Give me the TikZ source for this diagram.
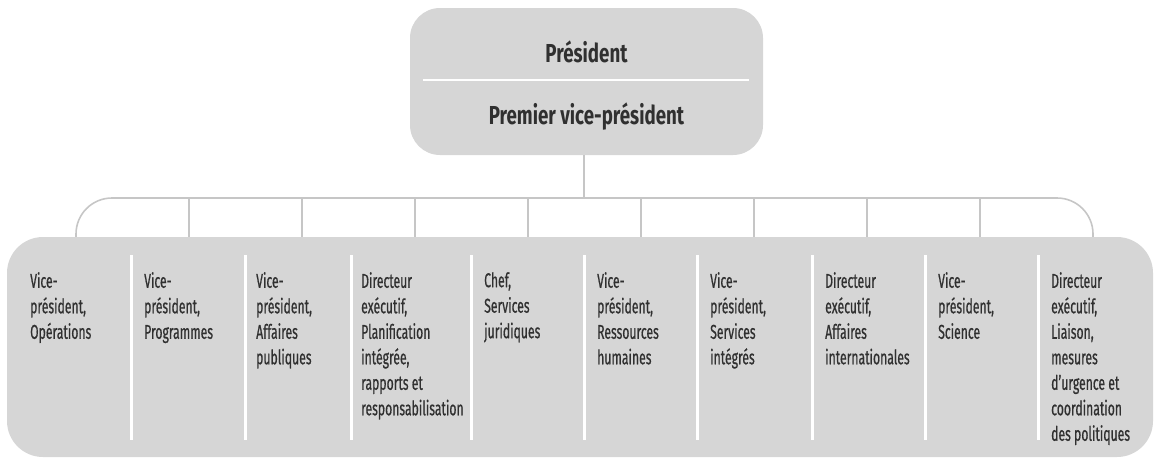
\documentclass[tikz,border=0pt]{standalone}
\usepackage{fontspec}
\setmainfont{Fira Sans}[FakeStretch=0.61, FakeBold=0.6]
\newfontfamily\topfont{Fira Sans}[FakeStretch=0.72]
\definecolor{boxgray}{HTML}{D6D6D6}
\definecolor{txt}{HTML}{303030}
\definecolor{linkgray}{HTML}{C6C6C6}
\begin{document}
\begin{tikzpicture}[x=1pt,y=-1pt,
  box/.style={fill=boxgray, draw=none, rounded corners=36pt, inner sep=0pt},
  lab/.style={anchor=north west, inner sep=0pt, align=left, text=txt, font=\fontsize{20}{25.5}\selectfont},
  toplab/.style={text=txt, inner sep=0pt, font=\topfont\fontsize{26}{28}\selectfont\bfseries},
  link/.style={draw=linkgray, line width=1.6pt},
  sepline/.style={draw=white, line width=3pt}]
\useasboundingbox (0,0) rectangle (1154,458);
% top box
\node[box, rounded corners=30pt, minimum width=353pt, minimum height=147pt] (top) at (586.5,81.5) {};
\node[toplab] (pres) at (586.5,52) {Président};
\node[toplab] (pvp) at (586.5,117) {Premier vice-président};
\draw[sepline, line width=2pt] ([xshift=13pt]top.west |- 0,80) -- ([xshift=-14pt]top.east |- 0,80);
% bottom box
\node[box, minimum width=1146pt, minimum height=220pt] (low) at (580,347) {};
% bus
\coordinate (bus) at (584,198);
\foreach \i in {1,...,10} \coordinate (d\i) at ({76+113*(\i-1)},198);
\draw[link] (top.south -| bus) -- (bus);
\draw[link, rounded corners=36pt] (d1 |- low.north) -- (d1) -- (d10) -- (d10 |- low.north);
\foreach \i in {2,...,9} \draw[link] (d\i) -- (d\i |- low.north);
% separators
\foreach \x in {131,245,351,471,584,697,812,925,1038} \draw[sepline] (\x,255) -- (\x,440);
% labels
\node[lab] (c1) at (30,272) {Vice-\\président,\\Opérations};
\node[lab] (c2) at (144,272) {Vice-\\président,\\Programmes};
\node[lab] (c3) at (256,272) {Vice-\\président,\\Affaires\\publiques};
\node[lab] (c4) at (361,272) {Directeur\\exécutif,\\Planification\\intégrée,\\rapports et\\responsabilisation};
\node[lab] (c5) at (484,272) {Chef,\\Services\\juridiques};
\node[lab] (c6) at (597,272) {Vice-\\président,\\Ressources\\humaines};
\node[lab] (c7) at (710,272) {Vice-\\président,\\Services\\intégrés};
\node[lab] (c8) at (825,272) {Directeur\\exécutif,\\Affaires\\internationales};
\node[lab] (c9) at (938,272) {Vice-\\président,\\Science};
\node[lab] (c10) at (1051,272) {Directeur\\exécutif,\\Liaison,\\mesures\\d’urgence et\\coordination\\des politiques};
\end{tikzpicture}
\end{document}
